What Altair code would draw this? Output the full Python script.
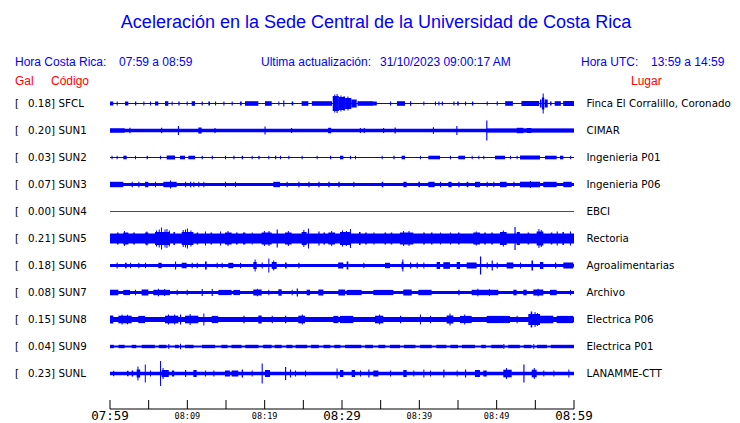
import altair as alt
import pandas as pd

# ---------------- data ----------------
codes = ["SFCL", "SUN1", "SUN2", "SUN3", "SUN4", "SUN5", "SUN6", "SUN7", "SUN8", "SUN9", "SUNL"]
gal = [0.18, 0.20, 0.03, 0.07, 0.00, 0.21, 0.18, 0.08, 0.15, 0.04, 0.23]
places = ["Finca El Corralillo, Coronado", "CIMAR", "Ingenieria P01", "Ingenieria P06", "EBCI",
          "Rectoria", "Agroalimentarias", "Archivo", "Electrica P06", "Electrica P01", "LANAMME-CTT"]
# background noise half-amplitude of each trace (display counts)
noise = [0.6, 1.7, 0.6, 1.6, 0.0, 5.0, 1.6, 1.6, 2.6, 1.1, 1.7]
flat_codes = ["SUN4"]

title = "Aceleración en la Sede Central de la Universidad de Costa Rica"
hora_cr = ["Hora Costa Rica:", "07:59 a 08:59"]
actualizacion = ["Ultima actualización:", "31/10/2023 09:00:17 AM"]
hora_utc = ["Hora UTC:", "13:59 a 14:59"]
col_heads = ["Gal", "Código", "Lugar"]

tick_minutes = list(range(0, 61, 5))
major_ticks = [0, 30, 60]
major_labels = ["07:59", "08:29", "08:59"]
minor_ticks = [10, 20, 40, 50]
minor_labels = ["08:09", "08:19", "08:39", "08:49"]

# bursts: (start minute, end minute, half-amplitude in counts)
bursts_SFCL = [(0, 0.43, 2), (0.86, 1.0, 2), (1.94, 2.37, 2), (3.23, 3.4, 2), (4.31, 4.45, 2), (5.17, 5.3, 2),
               (5.82, 6.25, 2), (7.11, 7.54, 2.3), (7.97, 8.1, 2), (8.84, 9.0, 2), (9.91, 10.05, 2),
               (10.56, 10.99, 2.3), (11.85, 12.0, 2), (12.72, 12.93, 2), (13.58, 13.72, 2), (14.66, 14.8, 2),
               (15.73, 15.87, 2), (16.81, 17.03, 2), (17.46, 19.18, 2.3), (20.04, 20.91, 2.3), (21.77, 21.9, 2),
               (22.4, 22.55, 3), (23.49, 23.7, 2), (24.78, 25.65, 2.3), (26.1, 28.7, 2.3),
               (28.8, 29.6, 7.5), (29.0, 29.1, 9), (29.3, 29.4, 9.5), (29.6, 30.4, 6.5), (29.8, 29.9, 8),
               (30.2, 30.3, 7.5), (30.4, 31.2, 5.5), (30.7, 30.8, 7), (31.2, 31.9, 4),
               (32.0, 34.0, 2.3), (34.0, 34.5, 2), (36.2, 36.35, 2), (37.1, 38.15, 2.3), (38.79, 38.95, 2.3),
               (40.52, 40.65, 2), (42.02, 42.15, 2), (42.46, 42.6, 2), (42.9, 43.05, 2), (44.4, 44.55, 2),
               (44.9, 45.1, 2), (45.9, 46.05, 2), (46.8, 46.98, 2), (48.71, 48.85, 2), (50.0, 50.15, 2),
               (51.1, 52.1, 2.3), (53.2, 55.5, 2.5), (55.6, 55.8, 4), (55.85, 56.15, 6), (55.95, 56.05, 10),
               (56.2, 56.6, 4), (56.9, 57.1, 2), (57.5, 58.3, 2.3), (58.6, 60, 2.5)]
bursts_SUN1 = [(0, 1.9, 2.2), (2.5, 2.65, 2.7), (6.6, 6.75, 2.7), (8.78, 8.92, 4.5), (11.42, 11.85, 3),
               (13.5, 13.65, 2.5), (19.98, 20.12, 4), (23.4, 23.55, 2.5), (28.2, 28.6, 2.7),
               (32.3, 32.45, 2.5), (32.8, 32.95, 2.5), (35.3, 35.45, 2.5), (36.8, 36.95, 3),
               (41.75, 41.9, 3.3), (44.78, 44.92, 4.5), (48.65, 48.8, 10), (48.7, 60, 2.1),
               (52.6, 53.45, 2.7), (53.9, 54.5, 2.5)]
bursts_SUN2 = [(0.2, 0.3, 1.8), (0.86, 0.95, 1.8), (1.72, 2.16, 1.8), (3.23, 3.35, 1.8), (4.74, 4.9, 1.8),
               (6.47, 6.6, 1.8), (7.33, 8.41, 2.0), (9.05, 9.7, 1.8), (10.13, 11.0, 1.8), (11.85, 12.0, 1.8),
               (13.15, 13.3, 1.8), (14.87, 15.0, 1.8), (15.95, 16.1, 1.8), (17.03, 17.2, 1.8),
               (18.32, 18.45, 1.8), (19.18, 19.35, 1.8), (20.47, 20.6, 1.8), (21.34, 21.5, 1.8),
               (21.98, 22.1, 1.8), (23.06, 23.2, 1.8), (24.78, 24.9, 1.8), (26.72, 26.85, 1.8),
               (28.45, 28.6, 1.8), (29.74, 30.17, 1.8), (31.03, 31.15, 1.8), (31.68, 31.8, 1.8),
               (35.13, 35.25, 1.8), (36.64, 36.8, 1.8), (37.71, 38.15, 1.8), (40.08, 40.2, 1.8),
               (41.16, 42.67, 1.8), (43.96, 44.1, 1.8), (45.04, 45.9, 1.8), (46.77, 46.9, 1.8),
               (47.63, 47.75, 1.8), (48.27, 48.4, 1.8), (49.78, 51.08, 1.8), (51.72, 51.85, 1.8),
               (52.58, 52.7, 1.8), (53.02, 55.6, 2.0), (56.25, 57.76, 1.8), (58.19, 58.62, 1.8),
               (59.5, 59.6, 1.8)]
bursts_SUN3 = [(0, 1.72, 2.7), (2.8, 2.95, 2.7), (3.66, 3.8, 2.7), (4.53, 4.96, 2.7), (5.82, 5.95, 2.7),
               (6.9, 8.62, 2.7), (7.76, 7.9, 4), (9.7, 9.85, 2.7), (10.35, 10.5, 2.7), (10.78, 10.9, 2.7),
               (11.42, 11.55, 2.7), (12.07, 12.2, 2.7), (14.87, 15.0, 2.7), (16.16, 16.3, 2.7),
               (21.12, 21.98, 2.7), (22.84, 22.98, 2.7), (24.35, 24.5, 2.7), (25.65, 25.8, 2.7),
               (26.94, 27.1, 2.7), (28.23, 28.4, 2.7), (29.53, 29.7, 2.7), (31.46, 31.6, 2.7),
               (35.13, 35.34, 2.7), (37.93, 38.36, 2.7), (39.87, 40.08, 2.7), (41.16, 41.98, 2.7),
               (42.67, 42.8, 2.7), (43.75, 44.18, 2.7), (45.04, 45.2, 2.7), (46.12, 46.34, 2.7),
               (47.2, 47.84, 2.7), (48.71, 48.85, 2.7), (49.57, 49.7, 2.7), (50.43, 51.29, 2.7),
               (52.16, 52.3, 2.7), (53.02, 55.6, 2.8), (54.3, 54.4, 3.5), (56.03, 57.76, 2.7), (58.62, 59.7, 2.7)]
bursts_SUN5 = [(0.9, 1.1, 6), (1.72, 2.37, 6), (1.8, 1.9, 7.5), (3.0, 3.2, 6), (4.53, 4.96, 6), (4.7, 4.8, 7),
               (5.82, 7.76, 6.5), (5.95, 6.05, 8), (6.3, 6.4, 9), (6.6, 6.72, 11), (7.05, 7.15, 9),
               (7.3, 7.4, 9.5), (7.6, 7.7, 8), (8.2, 8.4, 6.5), (9.27, 10.78, 6.5), (9.4, 9.5, 8.5),
               (9.7, 9.8, 9), (9.95, 10.05, 10), (10.4, 10.5, 8), (11.2, 11.4, 6), (12.28, 12.4, 7),
               (13.0, 13.2, 6), (14.22, 14.35, 7), (14.87, 15.73, 6), (15.2, 15.3, 7.5), (16.3, 16.5, 6),
               (17.2, 17.5, 6), (18.32, 18.45, 6), (19.61, 20.91, 6), (19.9, 20.0, 7.5), (20.5, 20.6, 7.5),
               (21.55, 21.7, 9), (22.63, 23.49, 6), (23.0, 23.1, 7.5), (24.78, 25.43, 6.5), (25.0, 25.1, 8.5),
               (25.6, 25.7, 10), (26.94, 27.1, 7), (27.6, 27.8, 6), (28.23, 29.1, 6), (28.6, 28.7, 7.5),
               (29.74, 31.03, 6.5), (30.0, 30.1, 8), (30.5, 30.6, 7.5), (31.03, 31.15, 9.5), (32.2, 32.4, 6.5),
               (33.0, 33.2, 6), (34.05, 34.2, 6), (35.5, 35.7, 6), (36.3, 36.5, 6), (37.5, 39.22, 6),
               (37.9, 38.0, 7.5), (38.6, 38.7, 7.5), (40.5, 40.7, 6), (41.5, 41.7, 6), (42.67, 42.8, 6),
               (43.96, 44.1, 6), (45.0, 45.2, 6), (46.98, 47.84, 6), (47.3, 47.4, 7), (48.4, 48.6, 6),
               (49.3, 49.5, 6), (50.43, 51.29, 6.5), (50.8, 50.9, 8), (52.3, 52.45, 11.5), (52.6, 53.0, 6.5),
               (54.0, 54.2, 6), (55.17, 56.03, 7), (55.4, 55.5, 9.5), (55.7, 55.8, 8.5), (57.0, 57.2, 6),
               (57.76, 57.9, 7), (58.5, 58.7, 6.5), (59.48, 59.6, 7)]
bursts_SUN6 = [(0.86, 0.95, 3), (1.94, 2.16, 2.7), (2.59, 2.7, 2.7), (3.66, 3.8, 2.7), (4.53, 4.65, 2.7),
               (6.25, 6.68, 2.7), (8.41, 8.55, 4), (9.27, 9.91, 2.7), (10.56, 10.7, 2.7), (11.21, 11.35, 2.7),
               (12.28, 12.5, 4), (13.79, 13.9, 2.7), (14.44, 14.55, 2.7), (15.3, 15.95, 2.7),
               (16.81, 16.95, 2.7), (18.53, 18.97, 3.5), (18.7, 18.82, 6), (19.61, 19.75, 3), (20.47, 20.6, 7),
               (20.91, 21.55, 3.5), (21.1, 21.2, 5), (22.63, 22.84, 3), (24.35, 24.5, 2.7), (29.5, 30.17, 3),
               (30.6, 30.82, 4), (32.76, 32.9, 2.7), (35.56, 36.21, 2.7), (37.71, 37.93, 3.5), (37.8, 37.9, 6),
               (38.79, 38.95, 3), (39.65, 39.8, 3), (40.52, 40.65, 3), (42.24, 42.67, 3.5), (43.1, 43.96, 3.3),
               (44.83, 45.26, 3.5), (46.12, 47.41, 3), (47.84, 48.0, 9), (48.71, 48.85, 3), (49.35, 49.5, 5),
               (50.0, 50.15, 3), (51.29, 52.16, 3), (53.02, 53.15, 3), (54.5, 54.7, 5), (55.6, 56.03, 3.5),
               (57.54, 57.7, 3), (58.62, 59.91, 3)]
bursts_SUN7 = [(0, 1.08, 2.8), (1.72, 2.59, 2.6), (3.23, 3.35, 2.8), (4.09, 4.96, 3), (5.6, 7.76, 2.7),
               (6.2, 6.3, 3.8), (7.0, 7.1, 3.5), (8.62, 8.75, 2.8), (9.91, 10.05, 2.8), (11.85, 12.0, 3.5),
               (13.15, 13.3, 3.5), (14.01, 15.73, 2.6), (15.95, 16.81, 2.6), (18.53, 19.61, 3), (19.0, 19.1, 3.8),
               (20.47, 20.6, 2.8), (21.77, 22.2, 3.2), (23.49, 23.6, 2.8), (24.14, 24.3, 4), (25.43, 25.86, 2.8),
               (26.94, 27.59, 3), (29.53, 30.4, 3), (30.6, 32.54, 2.6), (34.05, 36.64, 2.6),
               (37.93, 39.01, 3), (39.87, 41.59, 2.7), (45.04, 45.2, 2.8), (46.77, 50.21, 2.7),
               (47.5, 47.6, 3.8), (49.0, 49.1, 3.6), (52.16, 52.58, 2.8), (53.45, 53.88, 2.8),
               (54.74, 56.03, 3), (55.3, 55.4, 3.8), (56.9, 57.76, 2.7), (59.48, 59.6, 2.8)]
bursts_SUN8 = [(0, 0.43, 4), (1.08, 2.8, 3.8), (1.5, 1.6, 5), (2.2, 2.3, 4.8), (3.66, 4.53, 3.6),
               (7.11, 8.84, 3.8), (7.5, 7.6, 5), (8.3, 8.4, 5), (9.05, 9.2, 5), (9.7, 11.42, 3.8),
               (10.3, 10.4, 5.5), (12.07, 12.2, 6), (13.15, 13.99, 3.6), (17.24, 17.4, 3.8), (19.18, 19.61, 4),
               (20.91, 21.05, 3.8), (22.63, 22.8, 3.8), (24.35, 25.22, 3.8), (24.8, 24.9, 5), (28.88, 29.53, 3.6),
               (29.74, 31.46, 3.6), (34.27, 35.34, 3.8), (34.8, 34.9, 5), (37.5, 37.65, 3.8), (40.08, 40.2, 5),
               (41.38, 41.5, 3.8), (43.53, 44.4, 4), (43.9, 44.0, 6), (45.26, 46.77, 3.6), (45.8, 45.9, 5),
               (48.71, 51.72, 3.6), (52.58, 52.7, 3.8), (54.09, 55.6, 5.5), (54.4, 54.6, 8), (54.9, 55.0, 7.5),
               (55.2, 55.3, 6.5), (55.6, 57.33, 3.8), (57.76, 59.91, 3.6)]
bursts_SUN9 = [(0, 0.5, 1.7), (1.1, 1.9, 1.7), (2.8, 3.4, 1.7), (4.1, 5.8, 1.7), (6.3, 7.3, 1.7), (7.54, 7.65, 2.5),
               (8.4, 8.9, 1.7), (9.05, 9.15, 2.7), (9.7, 10.8, 1.7), (11.9, 13.6, 1.7), (14.4, 15.2, 1.7),
               (15.7, 17.0, 1.7), (17.5, 19.2, 1.7), (19.8, 20.9, 1.7), (21.3, 22.2, 1.7), (22.8, 23.6, 1.7),
               (24.0, 25.5, 1.7), (26.0, 27.0, 1.7), (27.6, 28.5, 1.7), (29.0, 29.8, 1.7), (30.4, 32.5, 1.7),
               (33.0, 34.0, 1.7), (34.7, 35.6, 1.7), (36.2, 37.5, 1.7), (38.0, 39.5, 1.7), (40.1, 41.6, 1.7),
               (42.2, 43.5, 1.7), (44.0, 45.0, 1.7), (45.5, 47.2, 1.7), (48.0, 48.6, 1.7), (49.3, 50.8, 1.7),
               (50.86, 51.0, 2.5), (51.5, 53.0, 1.7), (53.5, 54.5, 1.7), (54.74, 54.85, 2.5), (55.2, 56.5, 1.7),
               (57.0, 60, 1.7)]
bursts_SUNL = [(0.4, 0.55, 2.7), (2.2, 2.4, 2.7), (2.8, 3.0, 3), (3.45, 3.9, 4), (3.55, 3.65, 7), (4.5, 4.6, 9),
               (5.17, 5.3, 3), (6.47, 6.6, 12.5), (6.68, 7.6, 3.5), (6.8, 6.9, 5.5), (8.0, 8.3, 3),
               (9.7, 9.85, 3.5), (10.78, 11.2, 3.5), (12.28, 12.4, 3), (13.36, 13.5, 3), (14.87, 15.5, 3),
               (15.73, 16.59, 3), (17.03, 17.2, 4), (18.32, 18.45, 3), (19.61, 19.75, 10), (20.04, 20.69, 3.5),
               (22.63, 22.78, 6.5), (23.28, 23.4, 4), (23.92, 24.05, 3), (25.22, 25.35, 3), (29.3, 29.4, 5),
               (29.74, 30.17, 3.5), (31.25, 31.68, 3.5), (32.33, 32.45, 3), (33.4, 33.55, 4), (34.05, 34.7, 3),
               (36.21, 36.35, 3), (37.93, 38.36, 3.5), (39.22, 39.35, 3), (40.52, 40.65, 4), (41.38, 41.5, 3),
               (43.1, 43.25, 4), (44.83, 44.95, 3), (45.9, 46.05, 4), (47.2, 47.84, 3.5), (48.27, 48.71, 3),
               (50.86, 51.94, 3.8), (51.2, 51.3, 5.5), (53.45, 53.6, 9), (54.53, 55.17, 3.8), (54.8, 54.9, 5.5),
               (56.03, 56.15, 3), (57.33, 57.45, 3), (59.27, 59.4, 4)]

bursts = {"SFCL": bursts_SFCL, "SUN1": bursts_SUN1, "SUN2": bursts_SUN2, "SUN3": bursts_SUN3,
          "SUN5": bursts_SUN5, "SUN6": bursts_SUN6, "SUN7": bursts_SUN7, "SUN8": bursts_SUN8,
          "SUN9": bursts_SUN9, "SUNL": bursts_SUNL}

# ---------------- tables ----------------
COUNTS_PER_ROW = 27.0
rows_df = pd.DataFrame({
    "code": codes, "row": list(range(len(codes))),
    "galtxt": [f"{g:.2f}]" for g in gal], "place": places, "noise": noise,
})
rows_df["x0"] = 0
rows_df["x1"] = 60
rows_df["lo"] = rows_df["row"] - rows_df["noise"] / COUNTS_PER_ROW
rows_df["hi"] = rows_df["row"] + rows_df["noise"] / COUNTS_PER_ROW
band_df = rows_df[~rows_df["code"].isin(flat_codes)]
flat_df = rows_df[rows_df["code"].isin(flat_codes)]

brows = []
for c, lst in bursts.items():
    r = codes.index(c)
    for s, e, a in lst:
        brows.append({"code": c, "start": s, "end": max(e, s + 0.13),
                      "lo": r - a / COUNTS_PER_ROW, "hi": r + a / COUNTS_PER_ROW})
bursts_df = pd.DataFrame(brows)

BLUE = "#0000ff"
RED = "#ff0000"
xs = alt.Scale(domain=[0, 60], range=[102, 566], nice=False, zero=False)
ys = alt.Scale(domain=[0, 10], range=[95.5, 365.5], nice=False, zero=False)

band = alt.Chart(band_df).mark_rect(color=BLUE).encode(
    x=alt.X("x0:Q", scale=xs, axis=None), x2="x1:Q",
    y=alt.Y("lo:Q", scale=ys, axis=None), y2="hi:Q")
flat = alt.Chart(flat_df).mark_rule(color=RED, strokeWidth=1).encode(
    x=alt.X("x0:Q", scale=xs, axis=None), x2="x1:Q",
    y=alt.Y("row:Q", scale=ys, axis=None))
burst = alt.Chart(bursts_df).mark_rect(color=BLUE).encode(
    x=alt.X("start:Q", scale=xs, axis=None), x2="end:Q",
    y=alt.Y("lo:Q", scale=ys, axis=None), y2="hi:Q")

lab_font = "DejaVu Sans"
lab_size = 10.3
bracket = alt.Chart(rows_df).mark_text(align="left", baseline="middle", font=lab_font, fontSize=lab_size,
                                       color="black").encode(
    x=alt.value(7), y=alt.Y("row:Q", scale=ys, axis=None), text=alt.value("["))
galtxt = alt.Chart(rows_df).mark_text(align="right", baseline="middle", font=lab_font, fontSize=lab_size,
                                      color="black").encode(
    x=alt.value(47), y=alt.Y("row:Q", scale=ys, axis=None), text="galtxt:N")
codetxt = alt.Chart(rows_df).mark_text(align="left", baseline="middle", font=lab_font, fontSize=lab_size,
                                       color="black").encode(
    x=alt.value(50.5), y=alt.Y("row:Q", scale=ys, axis=None), text="code:N")
placetxt = alt.Chart(rows_df).mark_text(align="left", baseline="middle", font=lab_font, fontSize=lab_size,
                                        color="black").encode(
    x=alt.value(578.5), y=alt.Y("row:Q", scale=ys, axis=None), text="place:N")

# time axis
axis_df = pd.DataFrame({"a": [0], "b": [60]})
axis_line = alt.Chart(axis_df).mark_rule(color="black", strokeWidth=1).encode(
    x=alt.X("a:Q", scale=xs, axis=None), x2="b:Q", y=alt.value(401))
ticks = alt.Chart(pd.DataFrame({"t": tick_minutes})).mark_rule(color="black", strokeWidth=1).encode(
    x=alt.X("t:Q", scale=xs, axis=None), y=alt.value(392), y2=alt.value(401))
major = alt.Chart(pd.DataFrame({"t": major_ticks, "lab": major_labels})).mark_text(
    baseline="middle", align="center", font="DejaVu Sans Mono", fontSize=12.5, color="black").encode(
    x=alt.X("t:Q", scale=xs, axis=None), y=alt.value(407.5), text="lab:N")
minor = alt.Chart(pd.DataFrame({"t": minor_ticks, "lab": minor_labels})).mark_text(
    baseline="middle", align="center", font="DejaVu Sans Mono", fontSize=8.5, color="black").encode(
    x=alt.X("t:Q", scale=xs, axis=None), y=alt.value(407.5), text="lab:N")


def txt(s, x, y, color, size, align="left", font="Liberation Sans"):
    return alt.Chart(pd.DataFrame({"s": [s]})).mark_text(
        align=align, baseline="middle", font=font, fontSize=size, color=color).encode(
        x=alt.value(x), y=alt.value(y), text="s:N")


head = [
    txt(title, 368, 14.5, BLUE, 18, align="center"),
    txt(hora_cr[0], 7, 54, BLUE, 12), txt(hora_cr[1], 111, 54, BLUE, 12),
    txt(actualizacion[0], 253, 54, BLUE, 12), txt(actualizacion[1], 372, 54, BLUE, 12),
    txt(hora_utc[0], 573, 54, BLUE, 12), txt(hora_utc[1], 643, 54, BLUE, 12),
    txt(col_heads[0], 7, 73, RED, 12), txt(col_heads[1], 43, 73, RED, 12), txt(col_heads[2], 623, 73, RED, 12),
]

chart = alt.layer(band, flat, burst, bracket, galtxt, codetxt, placetxt,
                  axis_line, ticks, major, minor, *head).properties(
    width=724, height=415, padding=0, autosize=alt.AutoSizeParams(type="none")
).configure_view(stroke=None)

chart.save("out.html", embed_options={"renderer": "svg", "actions": False})
